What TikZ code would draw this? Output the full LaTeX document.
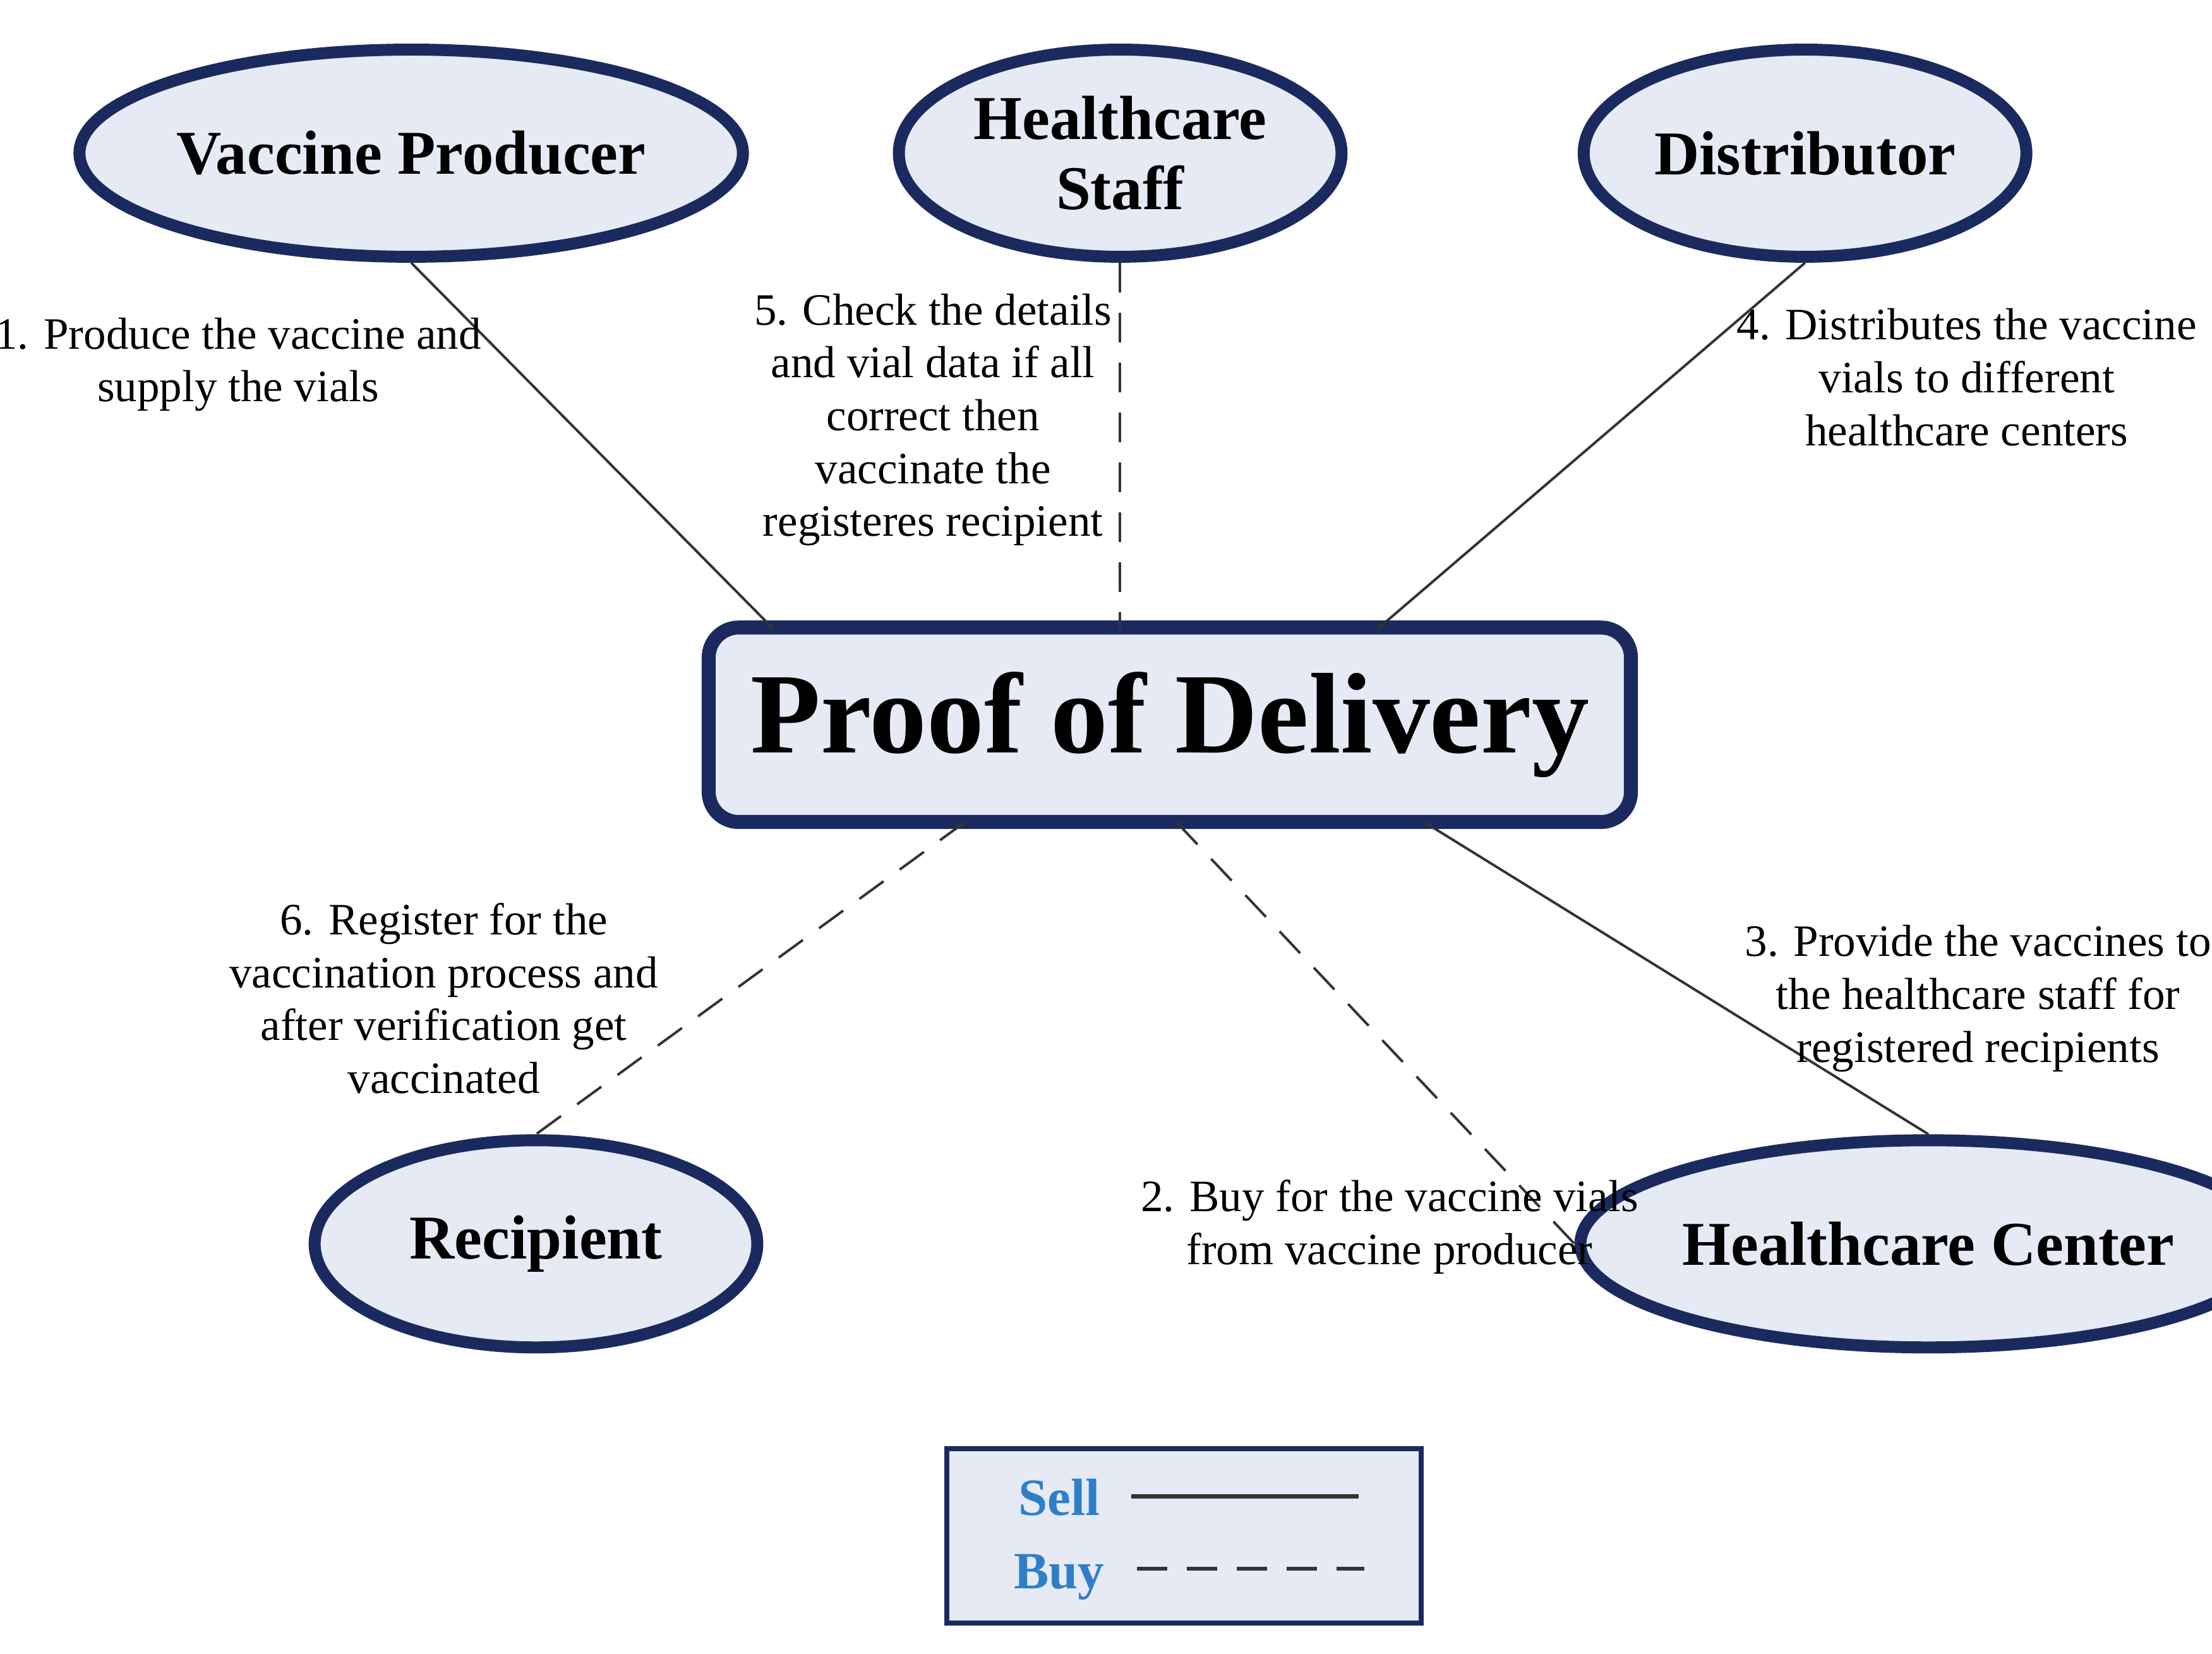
\documentclass[tikz,border=0pt]{standalone}
\usepackage{fontspec}
\setmainfont{Liberation Serif}
\usetikzlibrary{shapes.geometric,calc}
\definecolor{navy}{HTML}{1B2A5E}
\definecolor{fillb}{HTML}{E6EAF5}
\definecolor{legblue}{HTML}{2F7FC8}
\begin{document}
\begin{tikzpicture}[x=0.01cm,y=-0.01cm,
  ell/.style={ellipse,draw=navy,line width=2.4pt,fill=fillb,minimum width=3.12cm,minimum height=1.46cm,inner sep=0pt,font=\fontsize{12.5}{14}\selectfont\bfseries,align=center},
  lab/.style={font=\fontsize{9}{10.6}\selectfont,align=center,inner sep=0pt},
  sell/.style={draw=black!80,line width=0.5pt},
  buy/.style={draw=black!80,line width=0.5pt,dash pattern=on 6pt off 4pt}]
\useasboundingbox (0,0) rectangle (1560,1166);
\node[ell] (vp) at (290,108) {Vaccine Producer};
\node[ell] (hs) at (790,108) {Healthcare\\Staff};
\node[ell] (di) at (1273,108) {Distributor};
\node[ell] (rc) at (378,877) {Recipient};
\node[ell] (hc) at (1360,877) {Healthcare Center};
\node[draw=navy,line width=2.8pt,fill=fillb,rounded corners=6pt,minimum width=6.5cm,minimum height=1.37cm,font=\fontsize{23}{26}\selectfont\bfseries] (pod) at (825,511) {Proof of Delivery};
\coordinate (a1) at (545,443); \coordinate (a5) at (790,443); \coordinate (a4) at (972,443);
\coordinate (b6) at (680,580); \coordinate (b2) at (830,580); \coordinate (b3) at (1005,580);
\draw[sell] (vp.south) -- (a1);
\draw[buy] (hs.south) -- (a5);
\draw[sell] (di.south) -- (a4);
\draw[buy] (b6) -- (rc.north);
\draw[buy] (b2) -- (hc.west);
\draw[sell] (b3) -- (hc.north);
\node[lab] (l1) at (168,257) {1. Produce the vaccine and\\supply the vials};
\node[lab] (l5) at (658,296) {5. Check the details\\and vial data if all\\correct then\\vaccinate the\\registeres recipient};
\node[lab] (l4) at (1387,266) {4. Distributes the vaccine\\vials to different\\healthcare centers};
\node[lab] (l6) at (313,704) {6. Register for the\\vaccination process and\\after verification get\\vaccinated};
\node[lab] (l3) at (1395,704) {3. Provide the vaccines to\\the healthcare staff for\\registered recipients};
\node[lab] (l2) at (980,865) {2. Buy for the vaccine vials\\from vaccine producer};
\node[draw=navy,line width=1pt,fill=fillb,minimum width=3.34cm,minimum height=1.23cm,inner sep=0pt] (leg) at (835,1083) {};
\node[font=\fontsize{10.5}{12}\selectfont\bfseries,text=legblue] (ts) at (747,1056) {Sell};
\node[font=\fontsize{10.5}{12}\selectfont\bfseries,text=legblue] (tb) at (747,1112) {Buy};
\coordinate (s1) at (798,1055); \coordinate (s2) at (958,1055);
\coordinate (u1) at (802,1106); \coordinate (u2) at (962,1106);
\draw[sell,line width=0.8pt] (s1) -- (s2);
\draw[buy,line width=0.8pt] (u1) -- (u2);
\end{tikzpicture}
\end{document}
